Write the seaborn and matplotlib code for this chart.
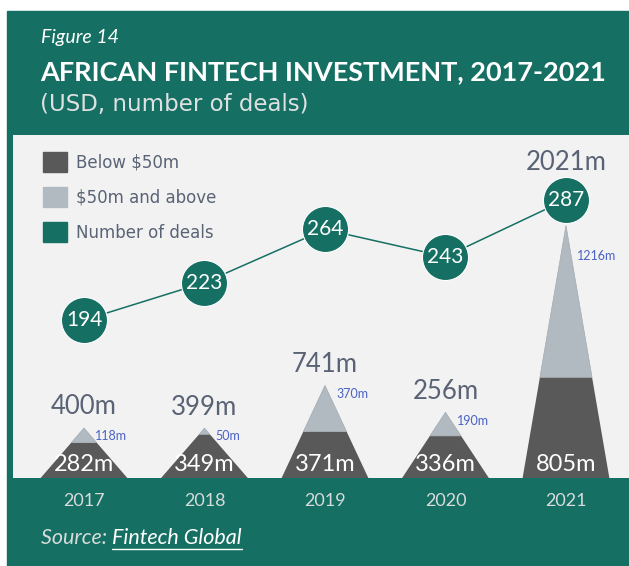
import matplotlib
matplotlib.use("Agg")
import matplotlib.pyplot as plt
from matplotlib.patches import Polygon, Patch, Rectangle
from matplotlib.lines import Line2D
import numpy as np
import pandas as pd
import seaborn as sns

# values as printed on the chart
years = ["2017", "2018", "2019", "2020", "2021"]
below_50m = [282, 349, 371, 336, 805]
above_50m = [118, 50, 370, 190, 1216]
total_labels = ["400m", "399m", "741m", "256m", "2021m"]
deals = [194, 223, 264, 243, 287]

GREEN = "#156f62"
PANEL = "#f2f2f2"
DARK = "#595959"
LIGHT = "#b2bac1"
TXT_GREY = "#5a6375"
BLUE = "#4a62c5"
PALE = "#d6dcdb"

sns.set_style("white")
plt.rcParams["font.family"] = ["Lato", "DejaVu Sans"]
WIDE = ["DejaVu Sans"]

df = pd.DataFrame({"year": years, "x": np.arange(len(years)),
                   "below": below_50m, "above": above_50m, "deals": deals})
df["total"] = df["below"] + df["above"]

W, H = 629, 566
fig = plt.figure(figsize=(W / 100, H / 100), dpi=100)
fig.patch.set_facecolor("white")
fig.add_artist(Rectangle((7 / W, 0), 1 - 7 / W, (H - 11) / H,
                         transform=fig.transFigure, color=GREEN, zorder=0))

ax = fig.add_axes([13 / W, (H - 478) / H, (W - 13) / W, (478 - 135) / H])
ax.set_facecolor(PANEL)
ax.set_xlim(-0.589, 4.523)
ax.set_ylim(0, 2744)

# number of deals on a second axis
ax2 = ax.twinx()
ax2.set_ylim(72, 337)
sns.lineplot(data=df, x="x", y="deals", ax=ax2, color=GREEN, lw=1.1, zorder=2)
sns.scatterplot(data=df, x="x", y="deals", ax=ax2, s=1100, color=GREEN,
                edgecolor="white", linewidth=0.8, zorder=3)
for _, r in df.iterrows():
    ax2.text(r["x"], r["deals"], f"{int(r['deals'])}", ha="center", va="center",
             color="white", fontsize=15, zorder=5)

# mountains: dark base trapezoid + light peak
hw = 0.36
for _, r in df.iterrows():
    x, b, t = r["x"], r["below"], r["total"]
    k = hw * (1 - b / t)
    ax.add_patch(Polygon([(x - hw, 0), (x + hw, 0), (x + k, b), (x - k, b)],
                         closed=True, color=DARK, lw=0, zorder=2))
    ax.add_patch(Polygon([(x - k, b), (x + k, b), (x, t)],
                         closed=True, facecolor=LIGHT, edgecolor="#9aa3ab", lw=0.4, zorder=2))
    ax.annotate(f"{int(b)}m", (x, 0), xytext=(0, 10), textcoords="offset points",
                ha="center", va="center", color="white", fontsize=17, zorder=4)

    apex = ax.transData.transform((x, t))[1]
    circ = ax2.transData.transform((x, r["deals"]))[1]
    # small label beside the peak, pushed down when a circle sits just above
    dy = -22 if 0 < circ - apex < 45 else -6
    ax.annotate(f"{int(r['above'])}m", (x, t), xytext=(8, dy), textcoords="offset points",
                ha="left", va="center", color=BLUE, fontsize=9, zorder=4)

    # total label above the peak, moved above the circle if they would clash
    ly = apex + 21
    if abs(ly - circ) < 40:
        ly = circ + 37
    ydata = ax.transData.inverted().transform((0, ly))[1]
    ax.text(x, ydata, total_labels[int(x)], ha="center", va="center",
            color=TXT_GREY, fontsize=18.5, zorder=4)

for a in (ax, ax2):
    for s in a.spines.values():
        s.set_visible(False)
    a.set_ylabel("")
    a.set_xlabel("")
ax2.set_yticks([])
ax.set_yticks([])
ax.set_xticks(df["x"])
ax.set_xticklabels(years)
ax.tick_params(axis="x", length=0, pad=11, colors=PALE, labelsize=13)

# legend
handles = [Patch(color=DARK, label="Below $50m"),
           Patch(color=LIGHT, label="$50m and above"),
           Patch(color=GREEN, label="Number of deals")]
leg = ax2.legend(handles=handles, loc="upper left", frameon=False,
                 bbox_to_anchor=(43 / W, 1 - 152 / H), bbox_transform=fig.transFigure,
                 borderpad=0, borderaxespad=0, handlelength=1.45, handleheight=1.45,
                 handletextpad=0.55, labelspacing=0.92, prop={"family": WIDE, "size": 12})
for t in leg.get_texts():
    t.set_color(TXT_GREY)

# titles
fig.text(41 / W, 1 - 38 / H, "Figure 14", color="white", fontsize=14,
         style="italic", va="center", ha="left")
fig.text(40 / W, 1 - 72 / H, "AFRICAN FINTECH INVESTMENT, 2017-2021", color="white",
         fontsize=19.5, fontweight="bold", va="center", ha="left")
fig.text(40 / W, 1 - 104 / H, "(USD, number of deals)", color="#dde1e1",
         fontsize=16.5, family=WIDE, va="center", ha="left")

# source line with underlined link text
src = fig.text(41 / W, 1 - 538 / H, "Source: ", color=PALE, fontsize=15.5,
               style="italic", va="center", ha="left")
fig.canvas.draw()
bb = src.get_window_extent()
link = fig.text(bb.x1 / W, 1 - 538 / H, "Fintech Global", color="white", fontsize=15.5,
                style="italic", va="center", ha="left")
fig.canvas.draw()
lb = link.get_window_extent()
fig.add_artist(Line2D([lb.x0 / W, lb.x1 / W], [(lb.y0 - 1) / H, (lb.y0 - 1) / H],
                      transform=fig.transFigure, color="white", lw=1))

fig.savefig("out.png", dpi=100, facecolor=fig.get_facecolor())
